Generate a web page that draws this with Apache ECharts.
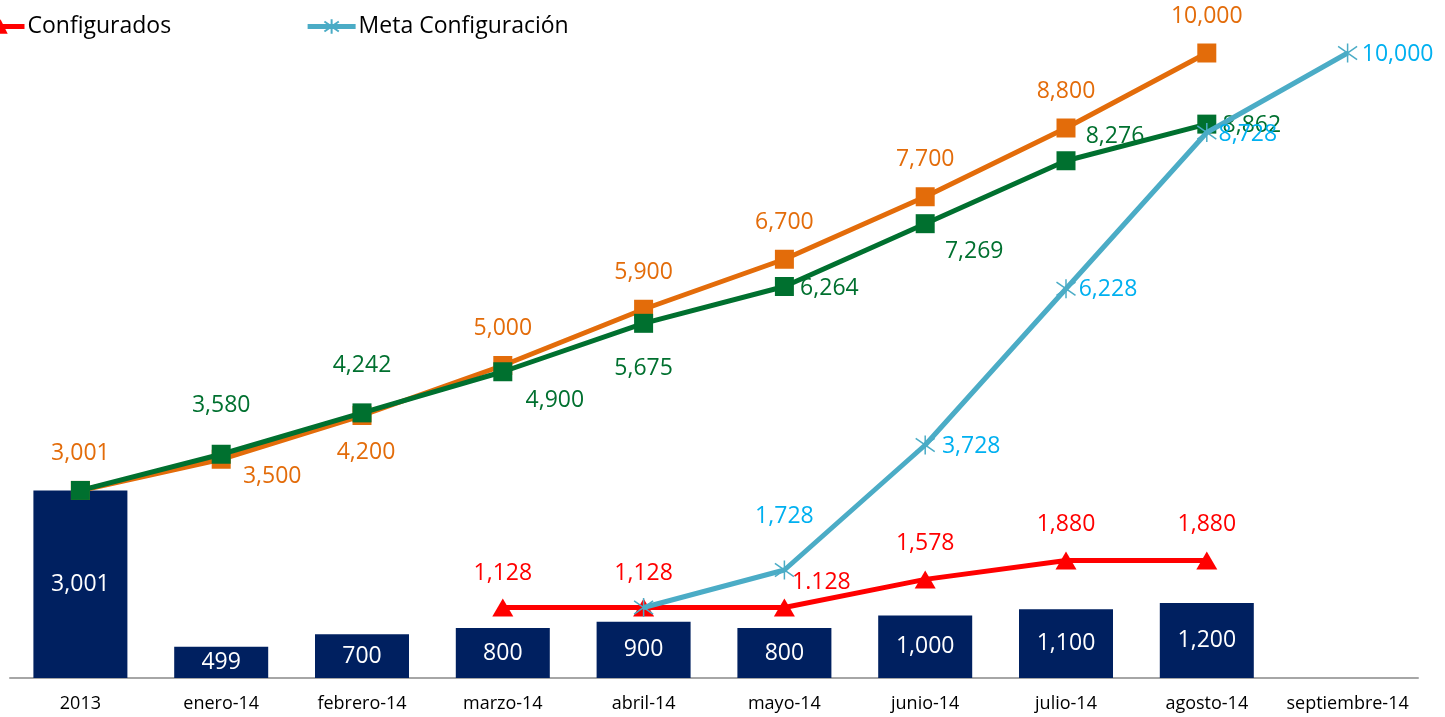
<!DOCTYPE html>
<html>
<head>
<meta charset="utf-8">
<script src="https://cdn.jsdelivr.net/npm/echarts@6/dist/echarts.min.js"></script>
<style>
  html, body { margin: 0; padding: 0; background: #fff; }
  #chart { width: 1445px; height: 717px; }
</style>
</head>
<body>
<div id="chart"></div>
<script>
// categorias del eje
var meses = ['2013', 'enero-14', 'febrero-14', 'marzo-14', 'abril-14', 'mayo-14', 'junio-14', 'julio-14', 'agosto-14', 'septiembre-14'];

// barras mensuales
var mensual = [3001, 499, 700, 800, 900, 800, 1000, 1100, 1200, null];
// lineas acumuladas
var metaAcumulada = [3001, 3500, 4200, 5000, 5900, 6700, 7700, 8800, 10000, null];
var realAcumulado = [3001, 3580, 4242, 4900, 5675, 6264, 7269, 8276, 8862, null];
var configurados = [null, null, null, 1128, 1128, 1128, 1578, 1880, 1880, null];
var metaConfig = [null, null, null, null, 1128, 1728, 3728, 6228, 8728, 10000];
// texto tal cual aparece (mayo usa punto)
var configuradosTxt = [null, null, null, '1,128', '1,128', '1.128', '1,578', '1,880', '1,880', null];

// desplazamientos de etiquetas (null = sin etiqueta)
var offNaranja = [[0, -37], [51, 17], [4, 37], [0, -37], [0, -37], [0, -37], [0, -37], [0, -37], [0, -37], null];
var offVerde = [null, [0, -49], [0, -47], [52, 29], [0, 45], [45, 2], [49, 28], [49, -24], [45, 1], null];
var offRojo = [null, null, null, [0, -34], [0, -34], [37, -25], [0, -36], [0, -36], [0, -36], null];
var offAzul = [null, null, null, null, null, [0, -54], [46, 1], [42, 1], [41, 2], [50, 1]];

var fuente = 'Open Sans';
var asterisco = 'path://M0,-10L0,10M-8,-7L8,7M-8,7L8,-7';

function fmt(v) {
    return v.toLocaleString('en-US');
}

function conEtiquetas(valores, offsets, color, textos) {
    return valores.map(function (v, i) {
        if (v == null) return null;
        var o = offsets[i];
        if (!o) return { value: v, label: { show: false } };
        return {
            value: v,
            label: {
                show: true,
                position: 'inside',
                offset: o,
                color: color,
                fontFamily: fuente,
                fontSize: 23,
                formatter: textos ? textos[i] : fmt(v)
            }
        };
    });
}

var myChart = echarts.init(document.getElementById('chart'));

var option = {
    animation: false,
    textStyle: { fontFamily: fuente },
    legend: {
        data: [
            { name: 'Configurados', itemStyle: { color: '#FF0000' }, lineStyle: { width: 5, color: '#FF0000' } },
            { name: 'Meta Configuración', itemStyle: { color: '#4BACC6' }, lineStyle: { width: 5, color: '#4BACC6' } }
        ],
        left: -31,
        top: 10,
        itemWidth: 48,
        itemHeight: 18,
        itemGap: 134,
        textStyle: { fontFamily: fuente, fontSize: 23, color: '#000', padding: [0, 0, 0, -2] }
    },
    grid: { left: 10, right: 27, top: 53, bottom: 39 },
    xAxis: {
        type: 'category',
        data: meses,
        axisLine: { lineStyle: { color: '#A6A6A6', width: 2 } },
        axisTick: { show: false },
        axisLabel: { color: '#000', fontFamily: fuente, fontSize: 18, margin: 17, interval: 0 }
    },
    yAxis: {
        type: 'value',
        min: 0,
        max: 10000,
        show: false,
        splitLine: { show: false }
    },
    series: [
        {
            name: 'Mensual',
            type: 'bar',
            data: mensual,
            barWidth: 94,
            itemStyle: { color: '#002060' },
            label: {
                show: true,
                position: 'inside',
                color: '#fff',
                fontFamily: fuente,
                fontSize: 23,
                formatter: function (p) { return fmt(p.value); }
            },
            z: 1
        },
        {
            name: 'Meta Acumulada',
            type: 'line',
            data: conEtiquetas(metaAcumulada, offNaranja, '#E36C0A'),
            symbol: 'rect',
            symbolSize: 19,
            lineStyle: { color: '#E36C0A', width: 5 },
            itemStyle: { color: '#E36C0A' },
            z: 3
        },
        {
            name: 'Acumulado Real',
            type: 'line',
            data: conEtiquetas(realAcumulado, offVerde, '#00702F'),
            symbol: 'rect',
            symbolSize: 19,
            lineStyle: { color: '#00702F', width: 5 },
            itemStyle: { color: '#00702F' },
            z: 4
        },
        {
            name: 'Configurados',
            type: 'line',
            data: conEtiquetas(configurados, offRojo, '#FF0000', configuradosTxt),
            symbol: 'triangle',
            symbolSize: [21, 18],
            lineStyle: { color: '#FF0000', width: 5 },
            itemStyle: { color: '#FF0000' },
            z: 5
        },
        {
            name: 'Meta Configuración',
            type: 'line',
            data: conEtiquetas(metaConfig, offAzul, '#00B0F0'),
            symbol: asterisco,
            symbolSize: 19,
            lineStyle: { color: '#4BACC6', width: 5 },
            itemStyle: { color: '#4BACC6', borderColor: '#4BACC6', borderWidth: 1.5 },
            z: 6
        }
    ]
};

myChart.setOption(option);
</script>
</body>
</html>
